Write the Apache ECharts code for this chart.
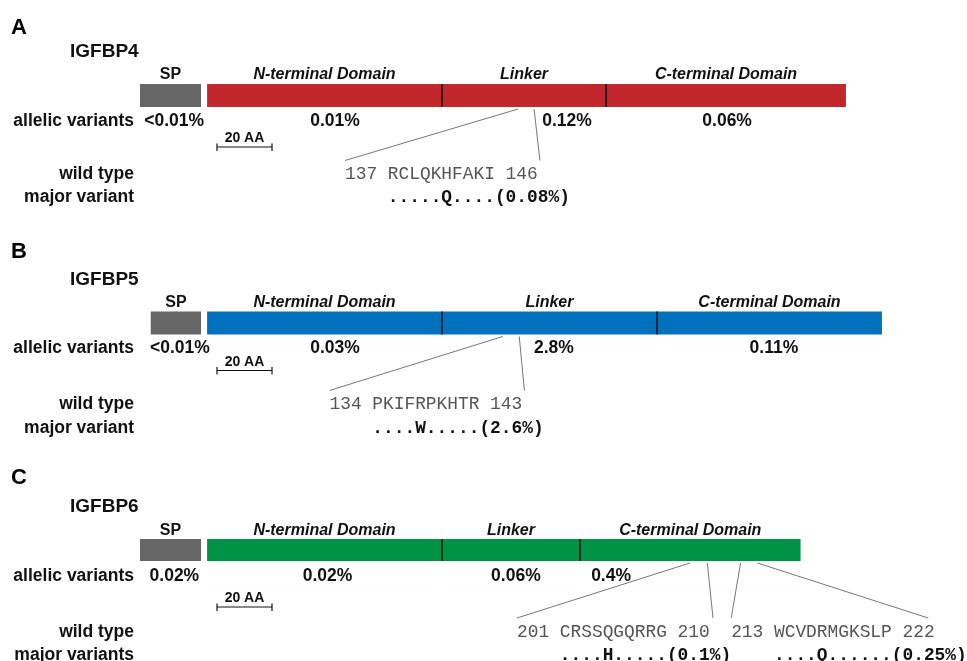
<!DOCTYPE html>
<html>
<head><meta charset="utf-8"></head>
<body style="margin:0;background:#fff">
<div id="main" style="width:967px;height:661px;"></div>
<script src="https://cdn.jsdelivr.net/npm/echarts@6/dist/echarts.min.js"></script>
<script>
// positions are in amino acids along the drawn protein (0 = left end of the IGFBP4 bar)
var domainNames = ['SP', 'N-terminal Domain', 'Linker', 'C-terminal Domain'];

var igfbp4Domains = [[0, 22.2], [24.4, 109.8], [109.8, 169.5], [169.5, 256.7]];
var igfbp5Domains = [[3.9, 22.2], [24.4, 109.8], [109.8, 188], [188, 269.8]];
var igfbp6Domains = [[0, 22.2], [24.4, 109.8], [109.8, 160], [160, 240.2]];

var igfbp4Variants = ['<0.01%', '0.01%', '0.12%', '0.06%'];
var igfbp5Variants = ['<0.01%', '0.03%', '2.8%', '0.11%'];
var igfbp6Variants = ['0.02%', '0.02%', '0.06%', '0.4%'];

// where each percentage label sits along the protein
var igfbp4VariantPos = [12.4, 70.9, 155.3, 213.5];
var igfbp5VariantPos = [14.5, 70.9, 150.5, 230.5];
var igfbp6VariantPos = [12.5, 68.2, 136.7, 171.3];

// zoomed stretches: where the callout leaves the bar, and the text column it points to
var igfbp4Callouts = [137.5, 143.3];
var igfbp5Callouts = [131.9, 137.9];
var igfbp6Callouts = [200, 206.3, 218.4, 224.5];
var igfbp4CalloutCols = [0, 18.2];
var igfbp5CalloutCols = [0, 18.2];
var igfbp6CalloutCols = [0, 18.3, 20, 38.4];

var igfbp4Wild = '137 RCLQKHFAKI 146';
var igfbp4Major = '    .....Q....(0.08%)';
var igfbp5Wild = '134 PKIFRPKHTR 143';
var igfbp5Major = '    ....W.....(2.6%)';
var igfbp6Wild = '201 CRSSQGQRRG 210  213 WCVDRMGKSLP 222';
var igfbp6Major = '    ....H.....(0.1%)    ....Q......(0.25%)';

var scaleBar = [28, 48];

var SANS = '"Liberation Sans", Arial, Helvetica, sans-serif';
var MONO = '"Liberation Mono", "Courier New", monospace';
var MONO_SIZE = 17.85;
var CHAR_W = MONO_SIZE * 0.6;
var SP_GREY = '#666666';

var panels = [
  {letter: 'A', name: 'IGFBP4', color: '#c1272d', domains: igfbp4Domains, pcts: igfbp4Variants,
   pctPos: igfbp4VariantPos, callouts: igfbp4Callouts, cols: igfbp4CalloutCols,
   wild: igfbp4Wild, major: igfbp4Major, majorLabel: 'major variant',
   top: 84, h: 23, letterY: 28, titleY: 51.5, labelY: 74.5, pctY: 121.5,
   scaleTextY: 138, scaleY: 147, seqY: 174, varY: 197.5, seqX: 345, calloutY: 160.5},
  {letter: 'B', name: 'IGFBP5', color: '#0071bc', domains: igfbp5Domains, pcts: igfbp5Variants,
   pctPos: igfbp5VariantPos, callouts: igfbp5Callouts, cols: igfbp5CalloutCols,
   wild: igfbp5Wild, major: igfbp5Major, majorLabel: 'major variant',
   top: 311.5, h: 23, letterY: 252, titleY: 280, labelY: 303, pctY: 348,
   scaleTextY: 362.5, scaleY: 370.5, seqY: 404, varY: 428, seqX: 329.5, calloutY: 390.5},
  {letter: 'C', name: 'IGFBP6', color: '#009245', domains: igfbp6Domains, pcts: igfbp6Variants,
   pctPos: igfbp6VariantPos, callouts: igfbp6Callouts, cols: igfbp6CalloutCols,
   wild: igfbp6Wild, major: igfbp6Major, majorLabel: 'major variants',
   top: 539, h: 22, letterY: 478, titleY: 507, labelY: 531, pctY: 576.5,
   scaleTextY: 598, scaleY: 607, seqY: 632, varY: 655, seqX: 517, calloutY: 618}
];

function txt(text, x, y, font, align, fill) {
  return {type: 'text', style: {text: text, x: x, y: y, font: font, align: align || 'center',
    verticalAlign: 'middle', fill: fill || '#111'}};
}

function renderDomain(p) {
  return function (params, api) {
    var j = params.dataIndex;
    var a = api.coord([api.value(0), 1]);
    var b = api.coord([api.value(1), 0]);
    var pc = api.coord([api.value(2), 0]);
    var kids = [
      {type: 'rect', shape: {x: a[0], y: a[1], width: b[0] - a[0], height: b[1] - a[1]},
       style: {fill: j === 0 ? SP_GREY : p.color}},
      txt(domainNames[j], (a[0] + b[0]) / 2, p.labelY, (j === 0 ? '' : 'italic ') + 'bold 16px ' + SANS),
      txt(p.pcts[j], pc[0], p.pctY, 'bold 17.5px ' + SANS)
    ];
    if (j >= 2) {
      kids.push({type: 'line', shape: {x1: a[0], y1: a[1], x2: a[0], y2: b[1]},
        style: {stroke: '#111', lineWidth: 1.5}});
    }
    return {type: 'group', children: kids};
  };
}

function renderCallout(p) {
  return function (params, api) {
    var t = api.coord([api.value(0), 0]);
    return {type: 'line',
      shape: {x1: t[0], y1: t[1] + 2, x2: p.seqX + api.value(1) * CHAR_W, y2: p.calloutY},
      style: {stroke: '#777', lineWidth: 1}};
  };
}

function renderScale(p) {
  return function (params, api) {
    var a = api.coord([api.value(0), 0]);
    var b = api.coord([api.value(1), 0]);
    var y = p.scaleY;
    return {type: 'group', children: [
      {type: 'line', shape: {x1: a[0], y1: y, x2: b[0], y2: y}, style: {stroke: '#111', lineWidth: 1.2}},
      {type: 'line', shape: {x1: a[0], y1: y - 3.5, x2: a[0], y2: y + 4}, style: {stroke: '#111', lineWidth: 1.2}},
      {type: 'line', shape: {x1: b[0], y1: y - 3.5, x2: b[0], y2: y + 4}, style: {stroke: '#111', lineWidth: 1.2}},
      txt('20 AA', (a[0] + b[0]) / 2, p.scaleTextY, 'bold 14px ' + SANS)
    ]};
  };
}

var grids = [], xAxes = [], yAxes = [], series = [], graphics = [];
panels.forEach(function (p, i) {
  grids.push({left: 140, top: p.top, width: 825, height: p.h});
  xAxes.push({type: 'value', gridIndex: i, min: 0, max: 300, show: false});
  yAxes.push({type: 'value', gridIndex: i, min: 0, max: 1, show: false});
  series.push({
    type: 'custom', xAxisIndex: i, yAxisIndex: i, renderItem: renderDomain(p),
    data: p.domains.map(function (d, j) { return [d[0], d[1], p.pctPos[j]]; })
  });
  series.push({
    type: 'custom', xAxisIndex: i, yAxisIndex: i, renderItem: renderCallout(p),
    data: p.callouts.map(function (c, j) { return [c, p.cols[j]]; })
  });
  series.push({
    type: 'custom', xAxisIndex: i, yAxisIndex: i, renderItem: renderScale(p),
    data: [scaleBar]
  });

  graphics.push(txt(p.letter, 11, p.letterY, 'bold 22px ' + SANS, 'left', '#000'));
  graphics.push(txt(p.name, 70, p.titleY, 'bold 19px ' + SANS, 'left', '#111'));
  graphics.push(txt('allelic variants', 134, p.pctY, 'bold 17.5px ' + SANS, 'right'));
  graphics.push(txt('wild type', 134, p.seqY, 'bold 17.5px ' + SANS, 'right'));
  graphics.push(txt(p.majorLabel, 134, p.varY, 'bold 17.5px ' + SANS, 'right'));
  graphics.push(txt(p.wild, p.seqX, p.seqY, MONO_SIZE + 'px ' + MONO, 'left', '#555'));
  graphics.push(txt(p.major, p.seqX, p.varY, 'bold ' + MONO_SIZE + 'px ' + MONO, 'left', '#111'));
});

var myChart = echarts.init(document.getElementById('main'));
myChart.setOption({
  animation: false,
  backgroundColor: '#fff',
  grid: grids,
  xAxis: xAxes,
  yAxis: yAxes,
  series: series,
  graphic: graphics
});
</script>
</body>
</html>
